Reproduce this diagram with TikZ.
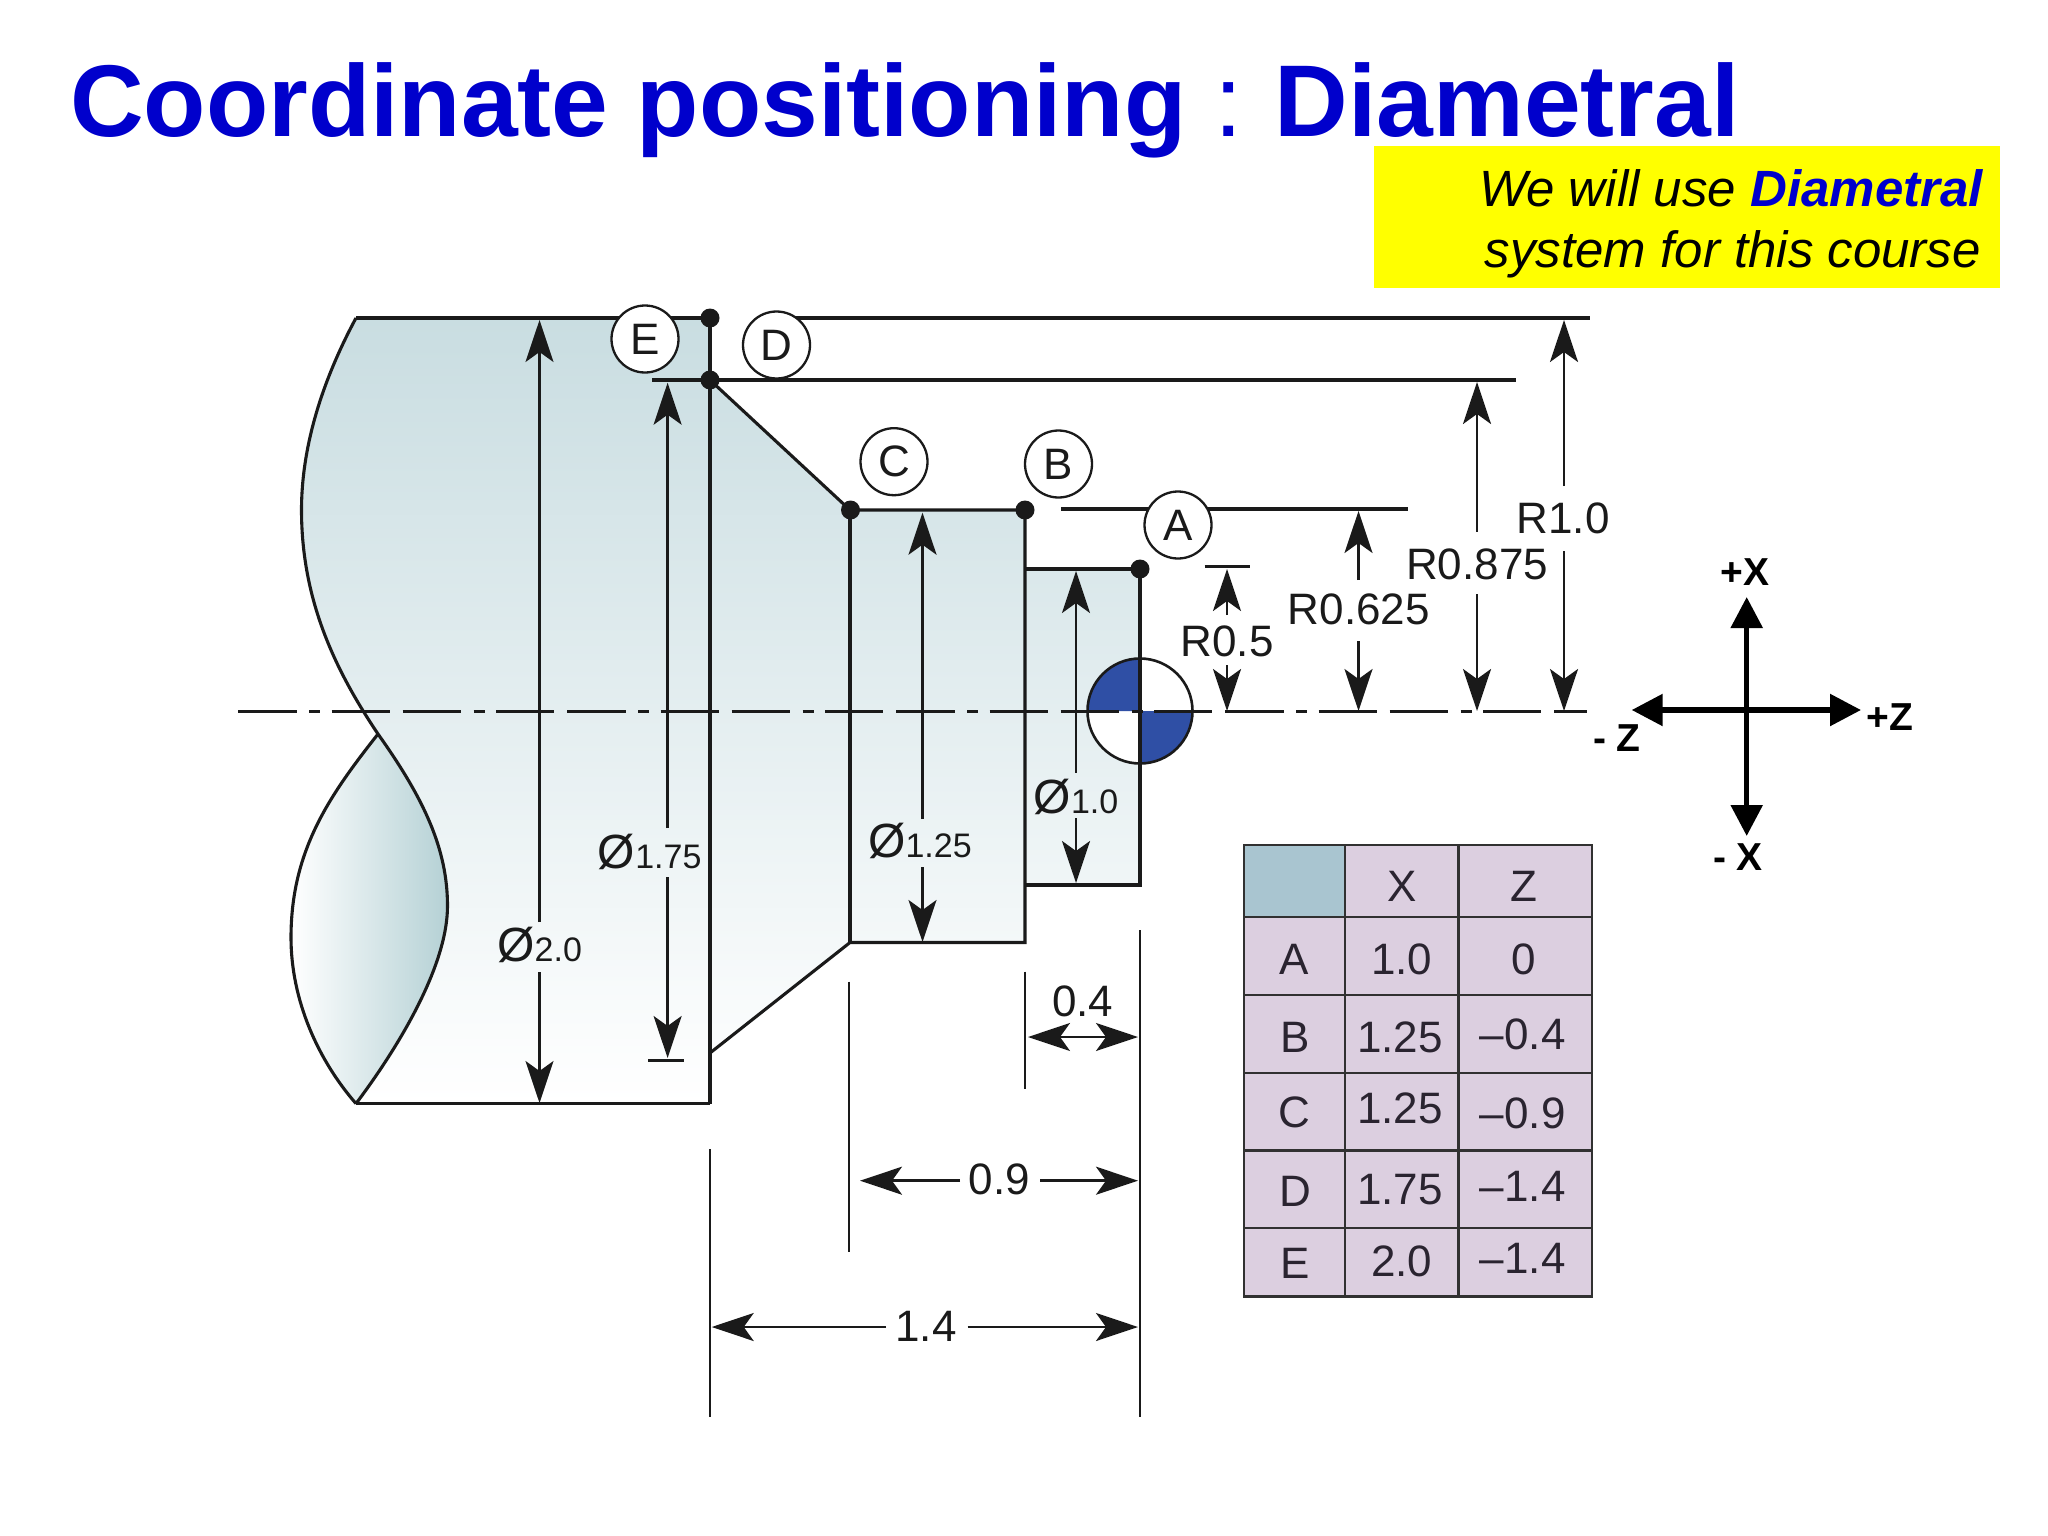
\documentclass[tikz,border=0pt]{standalone}
\usepackage{fontspec}
\setmainfont{Liberation Sans}
\usetikzlibrary{arrows.meta}
\definecolor{inkc}{HTML}{1A1A1A}
\definecolor{titleblue}{HTML}{0000CC}
\definecolor{noteyellow}{RGB}{255,255,0}
\definecolor{datumblue}{HTML}{2F4FA5}
\definecolor{bodytop}{HTML}{C9DDE1}
\definecolor{bodymid}{HTML}{EBF3F5}
\definecolor{lensr}{HTML}{B5D1D5}
\definecolor{tablebg}{HTML}{DCCFE0}
\definecolor{tablehd}{HTML}{A9C5D0}
\definecolor{tabletx}{HTML}{2A2430}
\newcommand{\fs}[1]{\fontsize{#1}{#1}\selectfont}
\tikzset{
  outline/.style={draw=inkc,line width=3.1pt,line join=miter},
  thinline/.style={draw=inkc,line width=2.7pt},
  dimline/.style={draw=inkc,line width=2.5pt,-{Stealth[length=42pt,width=28pt,inset=10pt]}},
  center line/.style={draw=inkc,line width=3pt,dash pattern=on 58.5pt off 12.5pt on 11pt off 11.5pt on 58pt off 13pt},
  dot/.style={circle,fill=inkc,inner sep=0pt,minimum size=19pt},
  callout/.style={circle,draw=inkc,line width=2.3pt,fill=white,inner sep=0pt,minimum size=67pt,text=inkc,font=\fs{44}},
  dimtext/.style={inner sep=0pt,text=inkc,font=\fs{44}},
  diatext/.style={inner sep=0pt,text=inkc},
  tabletext/.style={inner sep=0pt,text=tabletx,font=\fs{44}},
  axisline/.style={draw=black,line width=5.5pt,-{Triangle[length=31pt,width=31pt]}},
  axistext/.style={inner sep=0pt,text=black,font=\bfseries\fs{39}},
  tablerule/.style={draw=inkc!90!white,line width=2.8pt}
}
% name, x, arrow tip top, end of upper stem, start of lower stem, arrow tip bottom
\newcommand{\dimv}[6]{%
  \coordinate (#1tip) at (#2,#3);
  \coordinate (#1up) at (#2,#4);
  \coordinate (#1lo) at (#2,#5);
  \coordinate (#1bot) at (#2,#6);
  \draw[dimline] (#1up) -- (#1tip);
  \draw[dimline] (#1lo) -- (#1bot);
}
\newcommand{\tcell}[4]{\node[tabletext] (#1) at (#2,#3) {#4};}
\begin{document}
\begin{tikzpicture}[x=1pt,y=-1pt]
\useasboundingbox (0,0) rectangle (2048,1536);
% title and note
\node[inner sep=0pt,anchor=base west,text=titleblue,font=\bfseries\fs{102}] (title) at (70,136.7) {Coordinate positioning {\mdseries:}\kern-6pt{} Diametral};
\node[fill=noteyellow,inner sep=0pt,minimum width=626pt,minimum height=142.5pt] (notebox) at (1687,217.2) {};
\node[inner sep=0pt,anchor=base east,text=black,font=\itshape\fs{51}] (note1) at (1983,206.7) {We will use \textcolor{titleblue}{\bfseries Diametral}};
\node[inner sep=0pt,anchor=base east,text=black,font=\itshape\fs{51}] (note2) at (1981,267.5) {system for this course};
% part
\shade[top color=bodytop,middle color=bodymid,bottom color=white,shading angle=0]
  (356,318) -- (710,318) -- (710,380) -- (850,510) -- (1025,510) -- (1025,569) -- (1140,569) -- (1140,885)
  -- (1025,885) -- (1025,942.5) -- (850,942.5) -- (710,1053) -- (710,1103.6) -- (356,1103.6)
  .. controls (400,1045) and (447.5,965) .. (447.5,906)
  .. controls (447.5,850) and (425,800) .. (378,734)
  .. controls (335,670) and (301.5,600) .. (301.5,510)
  .. controls (301.5,450) and (320,385) .. (356,318) -- cycle;
\shade[left color=white,right color=lensr]
  (378,734) .. controls (425,800) and (447.5,850) .. (447.5,906)
  .. controls (447.5,965) and (400,1045) .. (356,1103.6)
  .. controls (318,1060) and (291,1000) .. (291,937.6)
  .. controls (291,850) and (330,795) .. (378,734) -- cycle;
% datum symbol
\node[circle,minimum size=105pt,inner sep=0pt,fill=white] (datum) at (1140,711) {};
\fill[datumblue] (datum.center) -- (datum.west) arc[start angle=180,end angle=90,radius=52.5pt] -- cycle;
\fill[datumblue] (datum.center) -- (datum.east) arc[start angle=0,end angle=-90,radius=52.5pt] -- cycle;
\draw[inkc,line width=2.6pt] (datum.center) circle[radius=52.5pt];
% outlines
\draw[outline] (356,1103.6) -- (710,1103.6);
\draw[outline] (356,318) -- (710,318);
\draw[outline] (356,318) .. controls (320,385) and (301.5,450) .. (301.5,510)
  .. controls (301.5,600) and (335,670) .. (378,734)
  .. controls (425,800) and (447.5,850) .. (447.5,906)
  .. controls (447.5,965) and (400,1045) .. (356,1103.6);
\draw[outline] (378,734) .. controls (330,795) and (291,850) .. (291,937.6)
  .. controls (291,1000) and (318,1060) .. (356,1103.6);
\draw[outline] (710,318) -- (710,1103.6);
\draw[outline] (710,380) -- (850,510) -- (1025,510);
\draw[outline] (850,510) -- (850,942.5);
\draw[outline] (1025,510) -- (1025,942.5) -- (850,942.5) -- (710,1053);
\draw[outline] (1025,569) -- (1140,569) -- (1140,885) -- (1025,885);
% extension lines
\coordinate (topR) at (1590,318);
\coordinate (secL) at (652,380);
\coordinate (secR) at (1516,380);
\coordinate (aL) at (1061,509);
\coordinate (aR) at (1408,509);
\coordinate (tickLa) at (1204.5,566.7);
\coordinate (tickLb) at (1249.5,566.7);
\coordinate (tickBa) at (648,1060.5);
\coordinate (tickBb) at (684,1060.5);
\draw[inkc,line width=3.8pt] (776,318) -- (topR);
\draw[outline] (secL) -- (secR);
\draw[outline] (aL) -- (aR);
\draw[outline] (tickLa) -- (tickLb);
\draw[outline] (tickBa) -- (tickBb);
\coordinate (e850a) at (849,981.7);
\coordinate (e850b) at (849,1251.7);
\coordinate (e710a) at (710,1149.3);
\coordinate (e710b) at (710,1417);
\coordinate (e1140a) at (1140,930);
\coordinate (e1140b) at (1140,1417);
\coordinate (e1025a) at (1025,971.7);
\coordinate (e1025b) at (1025,1089);
\draw[thinline] (e850a) -- (e850b);
\draw[thinline] (e710a) -- (e710b);
\draw[thinline] (e1140a) -- (e1140b);
\draw[thinline] (e1025a) -- (e1025b);
% centre line
\coordinate (clL) at (238,711);
\coordinate (clR) at (1587,711);
\draw[center line] (clL) -- (clR);
% vertical dimensions
\dimv{dA}{539.5}{320}{922}{972}{1103}
\dimv{dB}{667.6}{382.7}{828}{877}{1058}
\dimv{dC}{922.5}{512.7}{819}{867}{942}
\dimv{dD}{1076}{571}{772.7}{818}{883}
\dimv{rA}{1227}{569}{615}{665}{711}
\dimv{rB}{1358.5}{511}{580}{641}{711}
\dimv{rC}{1477}{382}{531.7}{594}{711}
\dimv{rD}{1564}{320}{486}{551}{711}
\node[diatext] (lblA) at (539.7,944.5) {\fs{48}Ø\fs{34}2.0};
\node[diatext] (lblB) at (649.7,851.5) {\fs{48}Ø\fs{34}1.75};
\node[diatext] (lblC) at (920,840.5) {\fs{48}Ø\fs{34}1.25};
\node[diatext] (lblD) at (1076,796.7) {\fs{48}Ø\fs{34}1.0};
\node[dimtext] (lblR5) at (1227,641.7) {R0.5};
\node[dimtext] (lblR6) at (1358.7,609) {R0.625};
\node[dimtext] (lblR8) at (1477,564) {R0.875};
\node[dimtext] (lblR1) at (1563,518.5) {R1.0};
% horizontal dimensions
\coordinate (h4a) at (1028,1037);
\coordinate (h4b) at (1138,1037);
\coordinate (h4m) at (1083,1037);
\draw[dimline] (h4m) -- (h4a);
\draw[dimline] (h4m) -- (h4b);
\node[dimtext] (lbl04) at (1082.7,1001.7) {0.4};
\node[dimtext] (lbl09) at (999.3,1179) {0.9};
\coordinate (h9a) at (860,1180.7);
\coordinate (h9b) at (1138,1180.7);
\coordinate (h9c) at (960,1180.7);
\coordinate (h9d) at (1040,1180.7);
\draw[dimline] (h9c) -- (h9a);
\draw[dimline] (h9d) -- (h9b);
\node[dimtext] (lbl14) at (926,1326) {1.4};
\coordinate (h14a) at (711.7,1327);
\coordinate (h14b) at (1138,1327);
\coordinate (h14c) at (886,1327);
\coordinate (h14d) at (967.7,1327);
\draw[dimline] (h14c) -- (h14a);
\draw[dimline] (h14d) -- (h14b);
% dots and callouts
\node[dot] (ptE) at (710,318) {};
\node[dot] (ptD) at (710,380) {};
\node[dot] (ptC) at (850.5,510) {};
\node[dot] (ptB) at (1025,510) {};
\node[dot] (ptA) at (1140,569) {};
\node[callout] (cE) at (645,339) {E};
\node[callout] (cD) at (776.5,345) {D};
\node[callout] (cC) at (894,461.7) {C};
\node[callout] (cB) at (1058.5,464) {B};
\node[callout] (cA) at (1178,525) {A};
% axes
\coordinate (ax) at (1746.7,710);
\coordinate (axU) at (1746.7,597);
\coordinate (axD) at (1746.7,836);
\coordinate (axL) at (1631.7,710);
\coordinate (axR) at (1861,710);
\draw[axisline] (ax) -- (axU);
\draw[axisline] (ax) -- (axD);
\draw[axisline] (ax) -- (axL);
\draw[axisline] (ax) -- (axR);
\node[axistext] (tpx) at (1745,572) {+X};
\node[axistext] (tpz) at (1890,717) {+Z};
\node[axistext] (tmz) at (1617,738) {- Z};
\node[axistext] (tmx) at (1738,857) {- X};
% table
\fill[tablebg] (1244,845) rectangle (1592,1296.7);
\fill[tablehd] (1244,845) rectangle (1345,917);
\draw[tablerule] (1244,845) rectangle (1592,1296.7);
\draw[tablerule] (1345,845) -- (1345,1296.7);
\draw[tablerule] (1458.7,845) -- (1458.7,1296.7);
\draw[tablerule] (1244,917) -- (1592,917);
\draw[tablerule] (1244,995) -- (1592,995);
\draw[tablerule] (1244,1073) -- (1592,1073);
\draw[tablerule] (1244,1150.7) -- (1592,1150.7);
\draw[tablerule] (1244,1228) -- (1592,1228);
\tcell{tX}{1401.7}{886.7}{X}
\tcell{tZ}{1524}{886.7}{Z}
\tcell{tA}{1294}{959}{A}
\tcell{tAx}{1401.7}{959}{1.0}
\tcell{tAz}{1524}{959}{0}
\tcell{tB}{1295}{1037}{B}
\tcell{tBx}{1400}{1037}{1.25}
\tcell{tBz}{1522.7}{1034}{–0.4}
\tcell{tC}{1294}{1112.7}{C}
\tcell{tCx}{1400}{1108}{1.25}
\tcell{tCz}{1522.7}{1113}{–0.9}
\tcell{tD}{1295}{1191.7}{D}
\tcell{tDx}{1400}{1190}{1.75}
\tcell{tDz}{1522.7}{1186}{–1.4}
\tcell{tE}{1295}{1263}{E}
\tcell{tEx}{1401.7}{1261}{2.0}
\tcell{tEz}{1522.7}{1258}{–1.4}
\end{tikzpicture}
\end{document}
